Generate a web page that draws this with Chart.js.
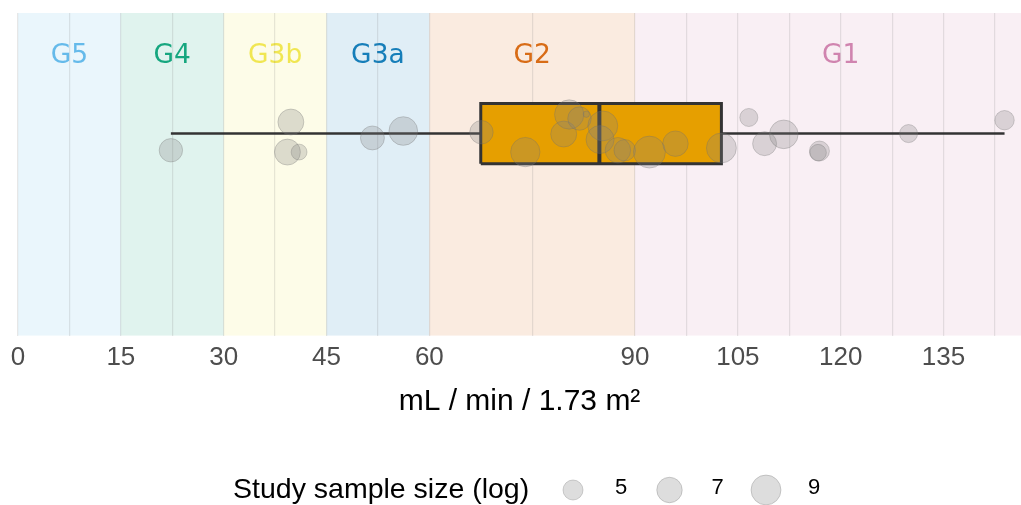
<!DOCTYPE html>
<html>
<head>
<meta charset="utf-8">
<script src="https://cdn.jsdelivr.net/npm/chart.js@4/dist/chart.umd.min.js"></script>
<style>
  html, body { margin: 0; padding: 0; background: #fff; }
  #wrap { width: 1021px; height: 505px; }
</style>
</head>
<body>
<div id="wrap"><canvas id="gfrChart"></canvas></div>
<script>
(function () {
    "use strict";

    /*----------------------------------------*/
    /*  data
    /*----------------------------------------*/
    const stageNames = ["G5", "G4", "G3b", "G3a", "G2", "G1"];
    const stageEdges = [0, 15, 30, 45, 60, 90, 150];
    const stageColors = ["#56B4E9", "#009E73", "#F0E442", "#0072B2", "#D55E00", "#CC79A7"];
    const tickLabels = [0, 15, 30, 45, 60, 90, 105, 120, 135];

    // study eGFR, vertical jitter, log sample size
    const gfrValues = [22.3, 39.8, 39.3, 41.0, 51.7, 56.2, 67.6, 74.0, 79.6, 80.4, 81.9, 82.9, 85.3,
        84.9, 87.5, 88.5, 92.1, 95.9, 102.6, 106.6, 108.9, 111.7, 116.9, 116.7, 129.9, 143.9];
    const jitterValues = [0.889, 1.077, 0.877, 0.877, 0.971, 1.017, 1.009, 0.877, 0.997, 1.127, 1.10, 1.129, 1.051,
        0.96, 0.889, 0.889, 0.877, 0.933, 0.904, 1.107, 0.933, 0.995, 0.884, 0.873, 1.0, 1.089];
    const logSampleSizes = [6.2, 7.2, 7.2, 3.8, 6.4, 8.4, 6.2, 8.7, 7.2, 8.7, 6.2, 2.1, 9.0,
        8.1, 7.0, 5.5, 10.0, 7.0, 9.0, 4.4, 6.4, 8.4, 5.0, 4.0, 4.4, 4.8];

    // min, q1, median, q3, max
    const boxStats = [22.3, 67.5, 84.8, 102.6, 143.9];
    const legendSizes = [5, 7, 9];

    /*----------------------------------------*/
    /*  style
    /*----------------------------------------*/
    const boxCenter = 1;
    const boxHalf = 0.2;
    const bubbleFill = "rgba(128,128,128,0.27)";
    const bubbleLine = "rgba(110,110,110,0.30)";
    const sizeToRadius = s => Math.sqrt(31 * s - 55);

    const minorTicks = tickLabels.slice(0, -1).map((v, i) => (v + tickLabels[i + 1]) / 2)
        .concat([tickLabels[tickLabels.length - 1] + 7.5]);
    const allTicks = tickLabels.concat(minorTicks).sort((a, b) => a - b);

    const hexAlpha = (hex, a) => {
        const n = parseInt(hex.slice(1), 16);
        return "rgba(" + (n >> 16) + "," + ((n >> 8) & 255) + "," + (n & 255) + "," + a + ")";
    };

    const stagePlugin = {
        id: "stages",
        beforeDraw(chart) {
            const ctx = chart.ctx, area = chart.chartArea, x = chart.scales.x;
            ctx.save();
            ctx.beginPath();
            ctx.rect(area.left, area.top, area.right - area.left, area.bottom - area.top);
            ctx.clip();
            stageNames.forEach((name, i) => {
                const x0 = x.getPixelForValue(stageEdges[i]);
                const x1 = x.getPixelForValue(stageEdges[i + 1]);
                ctx.fillStyle = hexAlpha(stageColors[i], 0.12);
                ctx.fillRect(x0, area.top, x1 - x0, area.bottom - area.top);
                ctx.fillStyle = hexAlpha(stageColors[i], 0.9);
                ctx.font = "26.5px 'DejaVu Sans'";
                ctx.textAlign = "center";
                ctx.textBaseline = "middle";
                ctx.fillText(name, x.getPixelForValue((stageEdges[i] + stageEdges[i + 1]) / 2), area.top + 43);
            });
            ctx.restore();
        },
        afterDraw(chart) {
            const ctx = chart.ctx;
            const y = chart.height - 15;
            ctx.save();
            ctx.fillStyle = "#000";
            ctx.font = "28.5px 'Liberation Sans'";
            ctx.textBaseline = "middle";
            ctx.textAlign = "left";
            ctx.fillText("Study sample size (log)", 233, y);
            let cx = 573;
            legendSizes.forEach(s => {
                ctx.beginPath();
                ctx.arc(cx, y, sizeToRadius(s), 0, Math.PI * 2);
                ctx.fillStyle = bubbleFill;
                ctx.fill();
                ctx.strokeStyle = bubbleLine;
                ctx.lineWidth = 1;
                ctx.stroke();
                ctx.fillStyle = "#000";
                ctx.textAlign = "center";
                ctx.font = "22px 'Liberation Sans'";
                ctx.fillText(String(s), cx + 48, y - 2);
                cx += 96.5;
            });
            ctx.restore();
        }
    };

    const bubbles = gfrValues.map((v, i) => ({ x: v, y: jitterValues[i], r: sizeToRadius(logSampleSizes[i]) }));

    new Chart(document.getElementById("gfrChart"), {
        data: {
            datasets: [{
                type: "bubble",
                data: bubbles,
                backgroundColor: bubbleFill,
                borderColor: bubbleLine,
                borderWidth: 1,
                order: 0
            }, {
                type: "scatter",
                data: [{ x: boxStats[2], y: boxCenter - boxHalf }, { x: boxStats[2], y: boxCenter + boxHalf }],
                showLine: true,
                borderColor: "#333333",
                borderWidth: 4,
                pointRadius: 0,
                order: 1
            }, {
                type: "scatter",
                data: [
                    { x: boxStats[1], y: boxCenter - boxHalf },
                    { x: boxStats[3], y: boxCenter - boxHalf },
                    { x: boxStats[3], y: boxCenter + boxHalf },
                    { x: boxStats[1], y: boxCenter + boxHalf },
                    { x: boxStats[1], y: boxCenter - boxHalf }
                ],
                showLine: true,
                fill: "shape",
                backgroundColor: "#E69F00",
                borderColor: "#333333",
                borderWidth: 3,
                borderJoinStyle: "miter",
                pointRadius: 0,
                order: 2
            }, {
                type: "scatter",
                data: [{ x: boxStats[0], y: boxCenter }, { x: boxStats[4], y: boxCenter }],
                showLine: true,
                borderColor: "#333333",
                borderWidth: 2.5,
                pointRadius: 0,
                order: 3
            }]
        },
        options: {
            responsive: true,
            maintainAspectRatio: false,
            animation: false,
            layout: { autoPadding: false, padding: { top: 13, left: 18, right: 0, bottom: 85 } },
            plugins: {
                legend: { display: false },
                tooltip: { enabled: false }
            },
            scales: {
                x: {
                    type: "linear",
                    min: 0,
                    max: 146.3,
                    afterBuildTicks: axis => { axis.ticks = allTicks.map(v => ({ value: v })); },
                    grid: { color: "rgba(110,110,110,0.17)", lineWidth: 1.2, drawTicks: false, tickLength: 0 },
                    border: { display: false },
                    ticks: {
                        autoSkip: false,
                        maxRotation: 0,
                        padding: 6,
                        color: "#4d4d4d",
                        font: { family: "'Liberation Sans'", size: 26 },
                        callback: v => tickLabels.includes(v) ? String(v) : ""
                    },
                    title: {
                        display: true,
                        text: "mL / min / 1.73 m\u00B2",
                        color: "#000",
                        font: { family: "'Liberation Sans'", size: 30 },
                        padding: { top: 5, bottom: 0 }
                    }
                },
                y: {
                    type: "linear",
                    display: false,
                    min: -0.345,
                    max: 1.802
                }
            }
        },
        plugins: [stagePlugin]
    });
})();
</script>
</body>
</html>
